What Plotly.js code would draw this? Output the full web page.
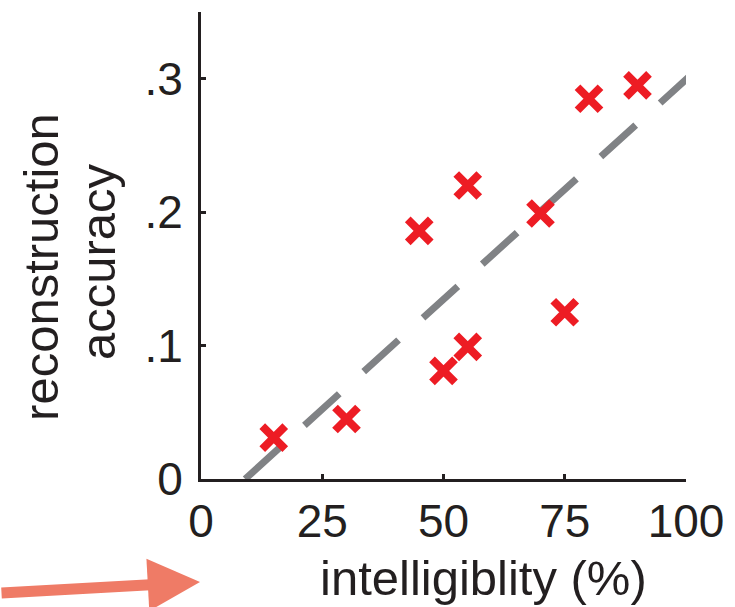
<!DOCTYPE html>
<html>
<head>
<meta charset="utf-8">
<script src="https://cdn.plot.ly/plotly-3.0.1.min.js"></script>
<style>
  html, body { margin: 0; padding: 0; background: #ffffff; }
  #chart { width: 735px; height: 607px; }
</style>
</head>
<body>
<div id="chart"></div>
<script>
// Intelligibility (%) vs. reconstruction accuracy, one point per subject
const intelligibility = [15, 30, 45, 50, 55, 55, 70, 75, 80, 90];
const accuracy = [0.031, 0.045, 0.186, 0.081, 0.099, 0.220, 0.199, 0.125, 0.285, 0.295];

// Endpoints of the fitted trend line
const fitX = [9.1, 100.8];
const fitY = [0, 0.302];

// Axis ticks
const xTickVals = [0, 25, 50, 75, 100];
const xTickText = ['0', '25', '50', '75', '100'];
const yTickVals = [0, 0.1, 0.2, 0.3];
const yTickText = ['0', '.1', '.2', '.3'];

const ink = '#231f20';
const font = 'Liberation Sans, Arial, Helvetica, sans-serif';

const traces = [
  {
    x: fitX,
    y: fitY,
    type: 'scatter',
    mode: 'lines',
    line: { color: '#808285', width: 7, dash: '47px,33px' },
    hoverinfo: 'skip'
  },
  {
    x: intelligibility,
    y: accuracy,
    type: 'scatter',
    mode: 'markers',
    marker: { symbol: 'x-thin-open', size: 23, color: '#ed1c24', line: { width: 8, color: '#ed1c24' } },
    cliponaxis: false
  }
];

const layout = {
  width: 735,
  height: 607,
  margin: { l: 201, r: 49, t: 12, b: 128 },
  paper_bgcolor: '#ffffff',
  plot_bgcolor: '#ffffff',
  showlegend: false,
  font: { family: font, color: ink, size: 46 },
  xaxis: {
    range: [0, 100],
    tickmode: 'array',
    tickvals: xTickVals,
    ticktext: xTickText,
    ticks: 'inside',
    ticklen: 5,
    tickwidth: 3,
    tickcolor: ink,
    showline: true,
    linecolor: ink,
    linewidth: 3,
    showgrid: false,
    zeroline: false,
    tickfont: { family: font, size: 46, color: ink },
    fixedrange: true
  },
  yaxis: {
    range: [0, 0.35],
    tickmode: 'array',
    tickvals: yTickVals,
    ticktext: yTickText,
    ticks: 'inside',
    ticklen: 5,
    tickwidth: 3,
    tickcolor: ink,
    showline: true,
    linecolor: ink,
    linewidth: 3,
    showgrid: false,
    zeroline: false,
    ticklabelstandoff: 6,
    tickfont: { family: font, size: 46, color: ink },
    fixedrange: true
  },
  annotations: [
    {
      text: 'intelligiblity (%)',
      xref: 'paper', yref: 'paper',
      x: 0.5835, y: -0.212,
      xanchor: 'center', yanchor: 'middle',
      showarrow: false,
      font: { family: font, size: 49, color: ink }
    },
    {
      text: 'reconstruction',
      xref: 'paper', yref: 'paper',
      x: -0.33, y: 0.454,
      xanchor: 'center', yanchor: 'middle',
      textangle: -90,
      showarrow: false,
      font: { family: font, size: 49, color: ink }
    },
    {
      text: 'accuracy',
      xref: 'paper', yref: 'paper',
      x: -0.2124, y: 0.4668,
      xanchor: 'center', yanchor: 'middle',
      textangle: -90,
      showarrow: false,
      font: { family: font, size: 49, color: ink }
    },
    {
      // pointer arrow along the lower left edge
      text: '',
      xref: 'paper', yref: 'paper',
      x: -0.002, y: -0.2206,
      ax: -210, ay: 11,
      showarrow: true,
      arrowhead: 2,
      arrowsize: 0.95,
      arrowwidth: 11,
      arrowcolor: '#ef7b66'
    }
  ]
};

Plotly.newPlot('chart', traces, layout, { displayModeBar: false, staticPlot: true });
</script>
</body>
</html>
